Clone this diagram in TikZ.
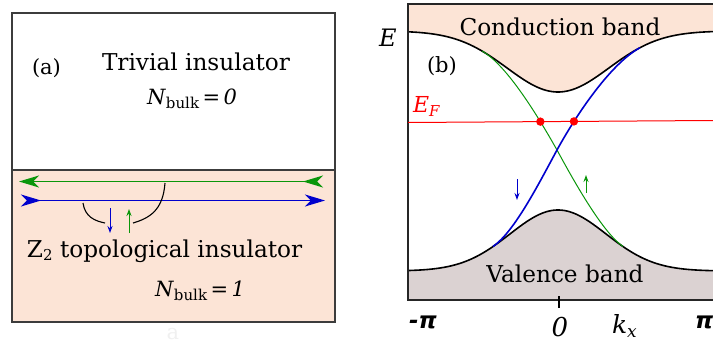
\documentclass[tikz,border=0pt]{standalone}
\usepackage{fontspec}
\setmainfont{DejaVu Serif}
\newfontfamily\pifont{DejaVu Sans}
\usetikzlibrary{arrows.meta,intersections}
\definecolor{cbpink}{RGB}{252,228,214}
\definecolor{vbgrey}{RGB}{219,210,210}
\definecolor{edgeblue}{RGB}{0,0,205}
\definecolor{edgegreen}{RGB}{10,150,10}
\definecolor{framegrey}{RGB}{60,60,60}
\newcommand\bigfs{\fontsize{23.2}{27}\selectfont}
\newcommand\midfs{\fontsize{21}{25}\selectfont}
\newcommand\subfs{\fontsize{15}{18}\selectfont}
\tikzset{
  lbl/.style={inner sep=0pt, outer sep=0pt},
  framea/.style={draw=framegrey, line width=1.1pt},
  frameb/.style={draw=black!85, line width=1.2pt},
  bandline/.style={black, line width=1.6pt},
  bigtip/.tip={Stealth[length=20pt,width=12pt,inset=6pt]},
  bigtipr/.tip={Stealth[length=20pt,width=12pt,inset=6pt,reversed]},
  smallarrow/.style={-{Stealth[length=7pt,width=5pt]}, line width=1pt},
  pilbl/.style={lbl, anchor=base west, font={\pifont\bfseries\itshape\fontsize{23}{26}\selectfont}},
}
\begin{document}
\begin{tikzpicture}[x=1pt,y=-1pt]
\useasboundingbox (0,0) rectangle (713,343);
% ---------------- panel (a)
\fill[cbpink] (12,170) rectangle (335,322);
\draw[framea] (12,13) rectangle (335,322);
\draw[framea] (12,170) -- (335,170);
\node[lbl, anchor=base west, font=\midfs] (alabel) at (32,74) {(a)};
\node[lbl, anchor=base west, font=\bigfs] (trivial) at (102,70) {Trivial insulator};
\node[lbl, anchor=base west, font=\midfs] (nbulk0) at (147,104) {\textit{N}\raisebox{-4pt}{\subfs bulk}\,=\,\textit{0}};
\node[lbl, anchor=base west, font=\bigfs] (ztwo) at (27,257) {Z\raisebox{-3pt}{\subfs 2} topological insulator};
\node[lbl, anchor=base west, font=\midfs] (nbulk1) at (155,296) {\textit{N}\raisebox{-4pt}{\subfs bulk}\,=\,\textit{1}};
\node[lbl, anchor=base, font=\midfs, text=black!6] (faint) at (173,339) {a};
% edge channels
\coordinate (gl) at (19,181.5);
\coordinate (gr) at (323,181.5);
\coordinate (bl) at (21,200.5);
\coordinate (br) at (325,200.5);
\draw[edgegreen, line width=1.7pt, {bigtip}-{bigtipr}] (gl) -- (gr);
\draw[edgeblue, line width=1.4pt, {bigtipr}-{bigtip}] (bl) -- (br);
\coordinate (c1a) at (83,203);
\coordinate (c1b) at (105,223);
\coordinate (c2a) at (165,183);
\coordinate (c2b) at (133,223);
\draw[black, line width=1.1pt] (c1a) .. controls (85,217) and (95,221) .. (c1b);
\draw[black, line width=1.1pt] (c2a) .. controls (163,210) and (150,218) .. (c2b);
\coordinate (sba) at (110,208);
\coordinate (sbb) at (110,233);
\coordinate (sga) at (129,233);
\coordinate (sgb) at (129,209);
\draw[edgeblue, smallarrow] (sba) -- (sbb);
\draw[edgegreen, smallarrow] (sga) -- (sgb);
% ---------------- panel (b)
\fill[cbpink] (408,4) -- plot[domain=408:713,samples=150] (\x,{31+61*exp(-1*(((\x-558)/72)^2))}) -- (713,4) -- cycle;
\fill[vbgrey] (408,300) -- plot[domain=408:713,samples=150] (\x,{271-61*exp(-1*(((\x-558)/68)^2))}) -- (713,300) -- cycle;
\draw[bandline] plot[domain=408:713,samples=150] (\x,{31+61*exp(-1*(((\x-558)/72)^2))});
\draw[bandline] plot[domain=408:713,samples=150] (\x,{271-61*exp(-1*(((\x-558)/68)^2))});
\draw[frameb] (713,4) -- (408,4) -- (408,300) -- (713,300);
\coordinate (tk1) at (559,296);
\coordinate (tk2) at (559,308);
\draw[black, line width=1.2pt] (tk1) -- (tk2);
% edge states
\draw[edgegreen, line width=1pt, name path=greenedge] (482,51) .. controls (507,65) and (539,118) .. (557,150) .. controls (576,185) and (603,232.5) .. (623,246.5);
\draw[edgeblue, line width=1.6pt, name path=blueedge] (493,246.5) .. controls (514,232) and (537,187) .. (557,150) .. controls (575,117) and (610,64) .. (640,47.7);
\coordinate (ef1) at (408,122.5);
\coordinate (ef2) at (713,120.5);
\draw[red, line width=1pt, name path=fermi] (ef1) -- (ef2);
\fill[red, name intersections={of=fermi and blueedge, name=ib}] (ib-1) circle (4.2);
\fill[red, name intersections={of=fermi and greenedge, name=ig}] (ig-1) circle (4.2);
\coordinate (pba) at (517,179);
\coordinate (pbb) at (517,200);
\coordinate (pga) at (586,193);
\coordinate (pgb) at (586,175);
\draw[edgeblue, smallarrow] (pba) -- (pbb);
\draw[edgegreen, smallarrow] (pga) -- (pgb);
% labels
\node[lbl, anchor=base, font=\bigfs] (cband) at (560,35) {Conduction band};
\node[lbl, anchor=base, font=\bigfs] (vband) at (565,282) {Valence band};
\node[lbl, anchor=base west, font={\fontsize{24}{28}\selectfont}] (elabel) at (379,46) {\textit{E}};
\node[lbl, anchor=base west, font=\midfs] (blabel) at (427,72) {(b)};
\node[lbl, anchor=base west, font={\fontsize{22}{26}\selectfont}, text=red] (eflabel) at (413,112) {\textit{E}\raisebox{-4pt}{\subfs\textit{F}}};
\node[pilbl] (mpi) at (409,328) {-π};
\node[lbl, anchor=base, font={\itshape\fontsize{26}{30}\selectfont}] (zero) at (560,336) {0};
\node[lbl, anchor=base west, font={\fontsize{25}{29}\selectfont}] (kx) at (612,333) {\textit{k}\raisebox{-4pt}{\fontsize{17}{20}\selectfont\textit{x}}};
\node[pilbl] (ppi) at (695,328) {π};
\end{tikzpicture}
\end{document}
